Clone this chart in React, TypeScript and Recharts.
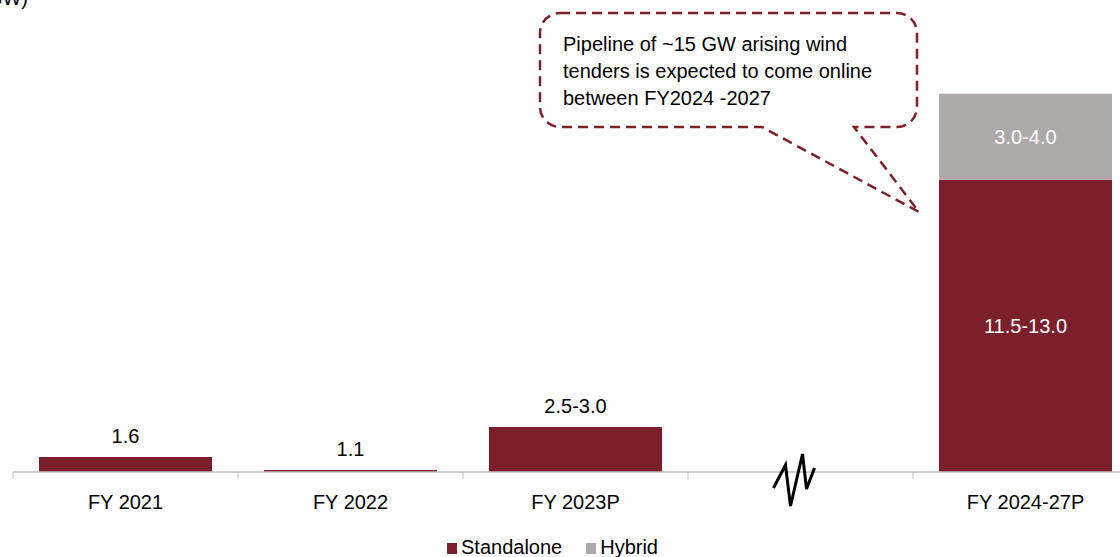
import { BarChart, Bar, XAxis, YAxis, LabelList, Legend, Customized } from 'recharts'

const categories = ['FY 2021', 'FY 2022', 'FY 2023P', '', 'FY 2024-27P']
const standalone = [1.6, 1.1, 2.75, null, 12.25]
const hybrid = [null, null, null, null, 3.3]
const standaloneLabels = ['1.6', '1.1', '2.5-3.0', '', '11.5-13.0']
const hybridLabels = ['', '', '', '', '3.0-4.0']
const calloutLines = [
  'Pipeline of ~15 GW arising wind',
  'tenders is expected to come online',
  'between FY2024 -2027',
]

const MAROON = '#7B1F2B'
const GREY = '#ADA9A9'
const FONT = "'Liberation Sans', Arial, sans-serif"

const WIDTH = 1150
const HEIGHT = 557
const margin = { top: 82, right: 12, bottom: 40, left: 13 }
const X_AXIS_H = 45
const PLOT_BOTTOM = HEIGHT - margin.bottom - X_AXIS_H
const BAND = (WIDTH - margin.left - margin.right) / categories.length

const data = categories.map((name, i) => ({
  name,
  standalone: standalone[i],
  hybrid: hybrid[i],
  standaloneLabel: standaloneLabels[i],
  hybridLabel: hybridLabels[i],
}))

const renderLabel = (props: any) => {
  const vb = props.viewBox ?? props
  const { x, y, width, height } = vb
  const value = props.value
  if (!value) return null
  const bottom = Math.min(y + height, PLOT_BOTTOM)
  const cx = x + width / 2
  if (bottom - y > 60) {
    return (
      <text x={cx} y={(y + bottom) / 2} textAnchor="middle" dominantBaseline="central" fill="#fff" fontSize={20} fontFamily={FONT}>
        {value}
      </text>
    )
  }
  return (
    <text x={cx} y={y - 14} textAnchor="middle" fill="#000" fontSize={20} fontFamily={FONT}>
      {value}
    </text>
  )
}

const AxisTick = (props: any) => {
  const { x, y, payload } = props
  const axisY = y - 8
  return (
    <g>
      <line x1={x - BAND / 2} x2={x - BAND / 2} y1={axisY} y2={axisY + 7} stroke="#BFBFBF" strokeWidth={1} />
      {payload.value === '' ? (
        <polyline
          points={`${x - 27},${axisY + 16} ${x - 15},${axisY - 7} ${x - 10},${axisY + 34} ${x + 2},${axisY - 18} ${x + 6},${axisY + 17} ${x + 14},${axisY - 4}`}
          fill="none"
          stroke="#000"
          strokeWidth={3}
          strokeLinejoin="miter"
        />
      ) : (
        <text x={x} y={axisY + 37} textAnchor="middle" fill="#000" fontSize={20} fontFamily={FONT}>
          {payload.value}
        </text>
      )}
    </g>
  )
}

const Callout = () => {
  const l = 540, r = 917, t = 13, b = 127, rad = 20
  const path = `M ${l + rad},${t} H ${r - rad} A ${rad} ${rad} 0 0 1 ${r},${t + rad} V ${b - rad} A ${rad} ${rad} 0 0 1 ${r - rad},${b} H 854 L 919,212 L 762,${b} H ${l + rad} A ${rad} ${rad} 0 0 1 ${l},${b - rad} V ${t + rad} A ${rad} ${rad} 0 0 1 ${l + rad},${t} Z`
  return (
    <g>
      <text x={28} y={5} textAnchor="end" fill="#000" fontSize={20} fontFamily={FONT}>(GW)</text>
      <path d={path} fill="none" stroke={MAROON} strokeWidth={2.5} strokeDasharray="10 6" />
      {calloutLines.map((line, i) => (
        <text key={i} x={563} y={51 + i * 27} fill="#000" fontSize={20} fontFamily={FONT}>
          {line}
        </text>
      ))}
    </g>
  )
}

const renderLegend = () => (
  <div style={{ display: 'flex', alignItems: 'baseline', fontFamily: FONT, fontSize: 20, lineHeight: '22px', color: '#000', whiteSpace: 'nowrap' }}>
    <span style={{ display: 'inline-block', width: 10, height: 11, background: MAROON, marginRight: 4 }} />
    <span style={{ marginRight: 24 }}>Standalone</span>
    <span style={{ display: 'inline-block', width: 10, height: 11, background: GREY, marginRight: 4 }} />
    <span>Hybrid</span>
  </div>
)

export default function App() {
  return (
    <div style={{ position: 'absolute', left: 0, top: 0, width: 1120, height: 557, overflow: 'hidden', background: '#fff' }}>
      <BarChart width={WIDTH} height={HEIGHT} data={data} margin={margin} barCategoryGap={26}>
        <XAxis
          dataKey="name"
          height={X_AXIS_H}
          axisLine={{ stroke: '#BFBFBF', strokeWidth: 1.5 }}
          tickLine={false}
          tick={<AxisTick />}
          interval={0}
        />
        <YAxis hide type="number" domain={[1.02, 16]} allowDataOverflow />
        <Bar dataKey="standalone" stackId="a" fill={MAROON} isAnimationActive={false}>
          <LabelList dataKey="standaloneLabel" content={renderLabel} />
        </Bar>
        <Bar dataKey="hybrid" stackId="a" fill={GREY} isAnimationActive={false}>
          <LabelList dataKey="hybridLabel" content={renderLabel} />
        </Bar>
        <Legend
          layout="horizontal"
          verticalAlign="middle"
          align="center"
          wrapperStyle={{ top: 536, left: 447, width: 'auto' }}
          content={renderLegend}
        />
        <Customized component={Callout} />
      </BarChart>
    </div>
  )
}
